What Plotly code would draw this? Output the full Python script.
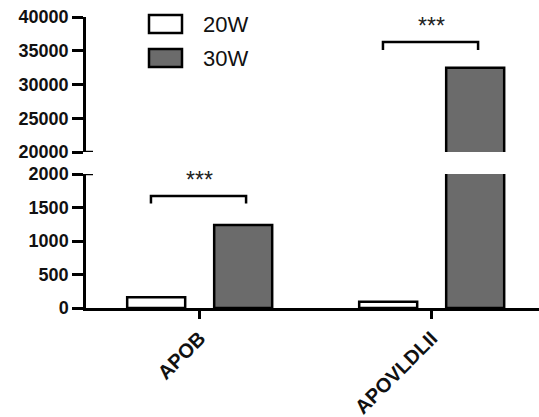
import plotly.graph_objects as go

categories = ["APOB", "APOVLDLII"]
series_names = ["20W", "30W"]
values_20w = [160, 95]
values_30w = [1240, 32500]
lower_ticks = [0, 500, 1000, 1500, 2000]
upper_ticks = [20000, 25000, 30000, 35000, 40000]
sig_labels = ["***", "***"]
# bracket heights (value units) and the subplot they sit in
bracket_top = [1670, 36300]
bracket_drop = [1560, 35100]
bracket_axis = ["y", "y2"]

W, H = 539, 417
ML, MR, MT, MB = 86, 0, 17, 109
PW, PH = W - ML - MR, H - MT - MB

def px_x(p):
    return (p - ML) / PW

def px_y(p):
    return (H - MB - p) / PH

fills = ["white", "#6b6b6b"]
xs = list(range(len(categories)))

fig = go.Figure()
for ax_x, ax_y in [("x", "y"), ("x2", "y2")]:
    for name, vals, col in zip(series_names, [values_20w, values_30w], fills):
        fig.add_trace(go.Bar(
            x=xs, y=vals, name=name, xaxis=ax_x, yaxis=ax_y,
            marker=dict(color=col, line=dict(color="black", width=2.5)),
            showlegend=False,
        ))

# significance brackets
for i, (top, drop, yax, lab) in enumerate(zip(bracket_top, bracket_drop, bracket_axis, sig_labels)):
    x0, x1 = xs[i] - 0.21, xs[i] + 0.20
    xa = "x" if yax == "y" else "x2"
    fig.add_trace(go.Scatter(
        x=[x0, x0, x1, x1], y=[drop, top, top, drop], mode="lines",
        line=dict(color="black", width=2.5), xaxis=xa, yaxis=yax,
        showlegend=False, hoverinfo="skip",
    ))
    fig.add_annotation(x=xs[i], y=top, xref=xa, yref=yax, text=lab,
                       showarrow=False, yshift=16, yanchor="middle",
                       font=dict(size=23, color="#222", family="Liberation Sans"))

lower_top = px_y(174)
upper_bot = px_y(152)

def axis_common(ticks):
    return dict(showline=True, linecolor="black", linewidth=2.5,
                tickvals=ticks, ticktext=[str(t) for t in ticks],
                ticks="outside", ticklen=11, tickwidth=2.5, tickcolor="black",
                showgrid=False, zeroline=False, automargin=False,
                tickfont=dict(size=18, family="Liberation Sans", color="#111", weight="bold"))

xr = [-0.49, -0.49 + PW / 232]
fig.update_layout(
    width=W, height=H,
    margin=dict(l=ML, r=MR, t=MT, b=MB),
    plot_bgcolor="white", paper_bgcolor="white",
    barmode="group", bargap=0.25, bargroupgap=1/3,
    xaxis=dict(domain=[0, 1], anchor="y", range=xr, tickvals=xs, ticktext=categories,
               tickangle=-45, showline=True, linecolor="black", linewidth=2.5,
               ticks="outside", ticklen=8, tickwidth=2.5, tickcolor="black",
               showgrid=False, zeroline=False, automargin=False,
               tickfont=dict(size=20, family="Liberation Sans", color="#111", weight="bold")),
    xaxis2=dict(domain=[0, 1], anchor="y2", matches="x", visible=False, range=xr),
    yaxis=dict(domain=[0, lower_top], anchor="x", range=[0, 2000], **axis_common(lower_ticks)),
    yaxis2=dict(domain=[upper_bot, 1], anchor="x2", range=[20000, 40000], **axis_common(upper_ticks)),
)

# axis break marks
for yv, yr in [(2000, "y"), (20000, "y2")]:
    fig.add_shape(type="line", xref="paper", yref=yr, x0=0, x1=px_x(93), y0=yv, y1=yv,
                  line=dict(color="black", width=2.5))

# custom legend
leg = [(15, 33, "20W", "white"), (49, 67, "30W", "#6b6b6b")]
for t, b, lab, col in leg:
    fig.add_shape(type="rect", xref="paper", yref="paper",
                  x0=px_x(149), x1=px_x(182), y0=px_y(b), y1=px_y(t),
                  fillcolor=col, line=dict(color="black", width=2.5))
    fig.add_annotation(xref="paper", yref="paper", x=px_x(201), y=px_y((t + b) / 2),
                       text=lab, showarrow=False, xanchor="left", yanchor="middle",
                       font=dict(size=22, family="Liberation Sans", color="#111"))

fig.write_html("out.html", config={"displayModeBar": False},
               post_script="document.body.style.margin='0px';")
